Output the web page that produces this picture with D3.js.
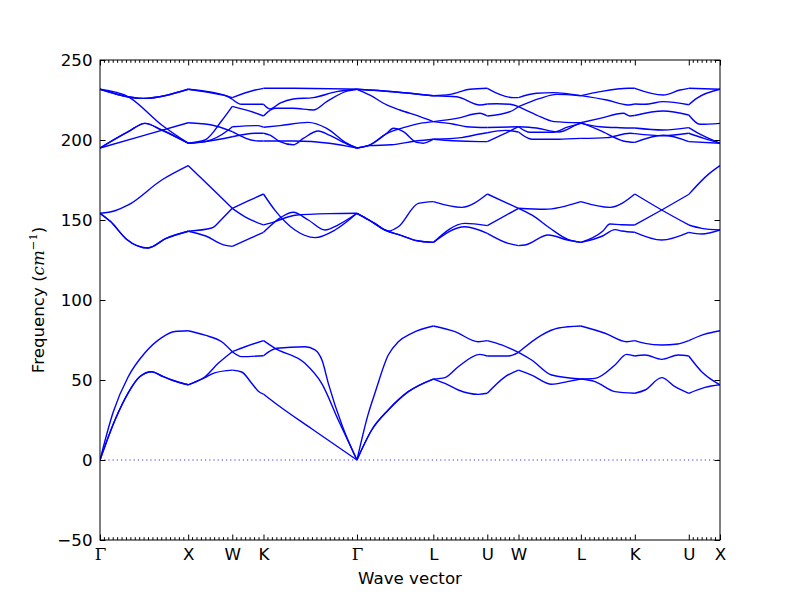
<!DOCTYPE html>
<html><head><meta charset="utf-8">
<script src="https://cdn.jsdelivr.net/npm/d3@7"></script>
<style>body{margin:0;background:#fff}</style>
</head><body><svg id="c" width="800" height="600"></svg>
<script>
// high-symmetry points along the path (path distance, Γ-X = 1)
const symLabels = ["Γ","X","W","K","Γ","L","U","W","L","K","U","X"];
const symPos = [0,1,1.5,1.854,2.914,3.780,4.392,4.746,5.453,6.065,6.677,7.031];
const minorCounts = [20,10,7,21,17,12,7,14,12,0,7];
const yTicks = [-50,0,50,100,150,200,250];

// acoustic branches [k, frequency cm^-1]
const band1 = [[0,0],[0.17,25],[0.32,42],[0.45,52],[0.586,55.2],[0.7,52.5],[0.813,50],[1,47],
 [1.19,51.5],[1.3,54.5],[1.5,56.2],[1.607,55],[1.72,48],[1.795,43],[1.854,41.2],
 [2.0,35],[2.4,19.5],[2.914,0],[3.081,18.75],[3.269,31.25],[3.496,42.7],[3.78,50.6],
 [3.912,47.9],[4.063,43.75],[4.29,41],[4.392,41.7],[4.593,52],[4.746,56.2],
 [4.895,53.1],[5.122,47.3],[5.3,49],[5.453,50.6],[5.613,49],[5.84,42.7],[6.065,41.7],
 [6.181,43.75],[6.37,51.5],[6.521,45.8],[6.677,41.7],[6.861,45.4],[7.031,47]];
const band2 = [[0,0],[0.17,25],[0.32,42],[0.45,52],[0.586,55.2],[0.7,52.5],[0.813,50],[1,47],
 [1.191,52],[1.34,60.4],[1.5,67.7],[1.607,64.6],[1.854,65.2],
 [2.003,69.8],[2.325,70.8],[2.438,68.8],[2.52,62],[2.589,47.9],[2.75,21],[2.914,0],
 [3.081,18.75],[3.269,31.25],[3.496,42.7],[3.78,50.6],
 [3.912,51.5],[4.063,58.3],[4.309,66],[4.392,65],[4.63,65],[4.746,67.3],
 [4.895,62.5],[5.122,53.1],[5.453,50.6],[5.613,51],[5.84,59.4],[5.972,66],[6.065,65],
 [6.181,65.6],[6.37,62.9],[6.558,65.6],[6.677,65],[6.823,55.2],[7.031,47]];
const band3 = [[0,0],[0.15,30],[0.32,52],[0.51,67],[0.7,76.5],[0.85,80.3],[1,80.8],
 [1.191,78],[1.38,73.9],[1.5,67.7],[1.645,70.8],[1.854,74.6],
 [1.985,69.8],[2.325,60.4],[2.514,47.9],[2.702,25],[2.914,0],
 [3.043,29],[3.119,42],[3.269,65.6],[3.383,73.9],[3.534,79.2],[3.78,83.75],
 [4.026,80.2],[4.29,73.9],[4.392,74.6],[4.555,71.9],[4.746,67.3],
 [5.008,78.1],[5.2,82.5],[5.453,83.75],[5.727,79.2],[5.972,73.9],[6.065,74.6],
 [6.181,72.9],[6.37,71.9],[6.55,72.5],[6.677,74.6],[6.85,78.5],[7.031,80.8]];
// middle optical branches
const band4 = [[0,154.2],[0.17,155.8],[0.321,159.4],[0.7,175],[1,184],
 [1.267,169.8],[1.5,157.3],[1.645,152],[1.854,146.9],
 [1.985,149],[2.211,153],[2.6,154],[2.914,154.2],
 [3.119,147.9],[3.269,143.1],[3.383,145.8],[3.61,160.4],[3.78,161.5],
 [4.101,157.9],[4.392,166.25],[4.746,157.3],[5.046,156.7],[5.453,161.5],
 [5.783,157.9],[6.065,166.25],[6.37,156.25],[6.677,146.9],[6.823,144.8],[7.031,143.75]];
const band5 = [[0,154.2],[0.12,149],[0.3,138],[0.544,132.5],[0.75,138.5],[1,143],
 [1.267,145],[1.38,150.5],[1.5,157.3],[1.68,161.9],[1.854,166.25],
 [1.985,156],[2.211,143.75],[2.438,139],[2.665,143.75],[2.914,154.2],
 [3.05,150],[3.232,143.75],[3.402,140.6],[3.6,137],[3.78,136],
 [4.139,147.9],[4.392,146.5],[4.746,157.3],
 [4.9,153],[5.1,145],[5.3,138],[5.453,136],
 [5.7,143],[5.783,147.5],[5.916,147],[6.065,146.9],
 [6.37,156.25],[6.677,166],[6.898,178.5],[7.031,184]];
const band6 = [[0,154.2],[0.12,149],[0.3,138],[0.544,132.5],[0.75,138.5],[1,143],
 [1.2,140],[1.4,134.5],[1.5,133.5],[1.7,138.5],[1.854,142.3],
 [2.061,152],[2.192,154.8],[2.362,150],[2.552,143.75],[2.702,147],[2.914,154.2],
 [3.05,150],[3.232,143.75],[3.402,140.6],[3.6,137],[3.78,136],
 [4.139,145.8],[4.392,141.7],[4.63,135.4],[4.746,134],
 [4.819,134.4],[5.084,140.6],[5.3,137.5],[5.453,136],
 [5.7,140],[5.84,144],[5.916,143.1],[6.065,142.3],
 [6.37,137.5],[6.677,142.3],[6.823,141.25],[7.031,143.75]];
// upper optical branches
const band7 = [[0,231.7],[0.491,226],[1,231.7],
 [1.191,230.5],[1.38,228.5],[1.5,226.5],[1.758,231.25],[1.854,232.3],
 [2.2,232.3],[2.914,231.7],[3.326,230.2],[3.78,227.7],
 [3.969,228.5],[4.196,231.7],[4.392,232.3],[4.687,226.5],[4.746,226.5],
 [4.951,229.2],[5.14,229.6],[5.453,227.7],[5.67,230.2],[5.99,232.3],[6.065,232.3],
 [6.388,228.1],[6.577,231.25],[6.677,232.3],[7.031,231.7]];
const band8 = [[0,231.7],[0.491,226],[1,231.7],
 [1.3,229],[1.455,227],[1.5,225.5],[1.607,222.3],[1.854,222.3],
 [1.928,219.4],[2.041,223],[2.192,225.6],[2.419,226.5],[2.684,230.2],[2.914,231.7],
 [3.326,230.2],[3.78,227.7],
 [4.045,227],[4.309,221.9],[4.392,222.5],[4.5,222.7],[4.65,222.3],[4.746,220.8],
 [4.989,226],[5.179,228.5],[5.453,227.7],
 [5.746,225],[5.99,221.9],[6.065,222.5],[6.18,222.3],[6.388,224],[6.677,222],
 [6.766,226],[7.031,231.7]];
const band9 = [[0,231.7],[0.321,227],[0.7,209.4],[1,198],
 [1.191,200],[1.38,212],[1.5,221],[1.7,218],[1.854,215],
 [1.985,219.8],[2.192,219.8],[2.419,218.75],[2.571,224],[2.8,230.5],[2.914,231.7],
 [3.062,228],[3.251,221.9],[3.402,218.75],[3.629,214.6],[3.78,211.5],
 [4.045,213.5],[4.309,216.7],[4.392,215],[4.65,217.7],[4.746,220.8],
 [4.95,215.6],[5.15,211.5],[5.453,210.8],
 [5.67,213.5],[5.934,216.7],[6.01,215],[6.065,215.3],
 [6.388,218.1],[6.677,215.6],[6.804,209.8],[7.031,210.4]];
const band10 = [[0,195],[0.321,205.2],[0.51,210.4],[0.7,206.25],[1,198],
 [1.191,199],[1.455,206.25],[1.5,208.3],[1.795,209],[1.854,208],
 [2.041,209],[2.36,211],[2.571,207.3],[2.798,198],[2.914,195],
 [3.062,197],[3.251,204.2],[3.326,207.3],[3.44,205.2],[3.591,198.5],[3.666,198],[3.78,200.5],
 [4.0,199.5],[4.309,199],[4.392,199],[4.55,203],[4.746,208.3],
 [4.876,204.8],[5.14,204.8],[5.3,208],[5.453,210.4],
 [5.67,208.3],[5.897,207.7],[6.065,207.5],[6.388,206.25],[6.677,207.7],
 [6.766,204.8],[7.031,198]];
const band11 = [[0,195],[0.321,205.2],[0.51,210.4],[0.7,206.25],[1,198],
 [1.2,199],[1.5,202],[1.758,204.2],[1.854,204.2],
 [1.928,203],[2.041,199],[2.192,197],[2.305,201],[2.476,205.6],[2.6,203],[2.8,197.5],[2.914,195],
 [3.062,197],[3.251,204],[3.44,207.7],[3.629,210.4],[3.78,211.5],
 [4.0,210],[4.158,208.3],[4.392,207.8],[4.746,208.3],
 [4.95,207.5],[5.2,205],[5.4,209.5],[5.453,210.8],
 [5.67,206],[5.934,199.4],[6.065,198.5],[6.388,203],[6.677,199],[7.031,198]];
const band12 = [[0,195],[0.51,203],[1,210.8],
 [1.267,209.4],[1.5,205.2],[1.795,199.4],[1.854,199.4],
 [2.2,199.4],[2.6,198],[2.914,195],
 [3.062,196.5],[3.3,197],[3.6,199.5],[3.78,200.5],
 [4.1,201.5],[4.309,203.75],[4.392,204.5],[4.6,206],[4.746,205],
 [4.9,200.5],[5.2,200.5],[5.453,201],
 [5.75,201.5],[6.01,204.2],[6.065,204],[6.388,202.7],[6.677,204.2],
 [6.85,201],[7.031,198]];
const bands = [band1,band2,band3,band4,band5,band6,band7,band8,band9,band10,band11,band12];

(function(){
const FONT = "'DejaVu Sans', sans-serif";
const FS = 16.67;
const svg = d3.select("#c");
svg.append("rect").attr("width",800).attr("height",600).attr("fill","#fff");
const x = d3.scaleLinear().domain([symPos[0], symPos[symPos.length-1]]).range([100,720]);
const y = d3.scaleLinear().domain([-50,250]).range([540,60]);

svg.append("clipPath").attr("id","clip").append("rect")
  .attr("x",100).attr("y",60).attr("width",620).attr("height",480);
const plot = svg.append("g").attr("clip-path","url(#clip)");

plot.append("line").attr("x1",x.range()[0]).attr("x2",x.range()[1])
  .attr("y1",y(0)).attr("y2",y(0))
  .attr("stroke","#0000ff").attr("stroke-width",0.8).attr("stroke-dasharray","1.2,3");

const line = d3.line().x(d=>x(d[0])).y(d=>y(d[1])).curve(d3.curveMonotoneX);
bands.forEach(b=>{
  for(let i=0;i<symPos.length-1;i++){
    const seg = b.filter(p=>p[0]>=symPos[i]-1e-6 && p[0]<=symPos[i+1]+1e-6);
    if(seg.length>1) plot.append("path").attr("d",line(seg))
      .attr("fill","none").attr("stroke","#0000ff").attr("stroke-width",1.4)
      .attr("stroke-linejoin","round");
  }
});

const minor = [];
for(let i=0;i<minorCounts.length;i++){
  const n=minorCounts[i];
  for(let j=1;j<n;j++) minor.push(symPos[i]+(symPos[i+1]-symPos[i])*j/n);
}
const axG = svg.append("g").attr("stroke","#000").attr("stroke-width",1);
minor.forEach(k=>{
  axG.append("line").attr("x1",x(k)).attr("x2",x(k)).attr("y1",540).attr("y2",537.2);
  axG.append("line").attr("x1",x(k)).attr("x2",x(k)).attr("y1",60).attr("y2",62.8);
});

const axBottom = d3.axisBottom(x).tickValues(symPos).tickSizeInner(-5.5).tickSizeOuter(0).tickPadding(8.2)
  .tickFormat((d,i)=>symLabels[i]);
const axTop = d3.axisTop(x).tickValues(symPos).tickSizeInner(-5.5).tickSizeOuter(0).tickFormat("");
const axLeft = d3.axisLeft(y).tickValues(yTicks).tickSizeInner(-5.5).tickSizeOuter(0).tickPadding(7.5);
const axRight = d3.axisRight(y).tickValues(yTicks).tickSizeInner(-5.5).tickSizeOuter(0).tickFormat("");

function style(g){
  g.select(".domain").remove();
  g.selectAll("line").attr("stroke","#000").attr("stroke-width",1);
  g.selectAll("text").attr("fill","#000").style("font-family",FONT).style("font-size",FS+"px");
}
const gb = svg.append("g").attr("transform","translate(0,540)").call(axBottom).call(style);
gb.selectAll("text").each(function(d,i){
  if(symLabels[i]==="Γ") d3.select(this).style("font-family","'DejaVu Serif', serif");
});
svg.append("g").attr("transform","translate(0,60)").call(axTop).call(style);
svg.append("g").attr("transform","translate(100,0)").call(axLeft).call(style);
svg.append("g").attr("transform","translate(720,0)").call(axRight).call(style);

svg.append("rect").attr("x",100).attr("y",60).attr("width",620).attr("height",480)
  .attr("fill","none").attr("stroke","#000").attr("stroke-width",1);

svg.append("text").attr("x",410).attr("y",584).attr("text-anchor","middle")
  .style("font-family",FONT).style("font-size",FS+"px").text("Wave vector");
const yl = svg.append("text").attr("transform","translate(44,300) rotate(-90)")
  .attr("text-anchor","middle").style("font-family",FONT).style("font-size",FS+"px");
yl.append("tspan").text("Frequency (");
yl.append("tspan").style("font-family","'DejaVu Serif', serif").style("font-style","italic").text("cm");
yl.append("tspan").attr("dy",-7).style("font-size","11.5px").style("font-family","'DejaVu Serif', serif").text("−1");
yl.append("tspan").attr("dy",7).text(")");
})();
</script></body></html>
